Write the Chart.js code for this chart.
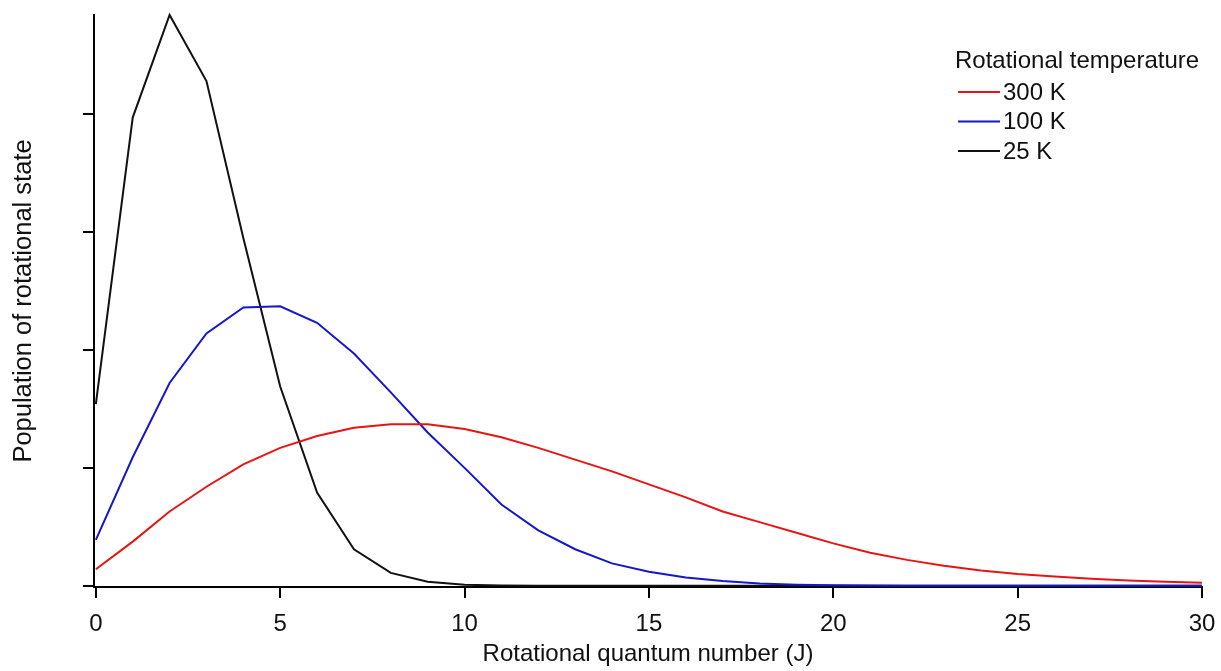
<!DOCTYPE html>
<html>
<head>
<meta charset="utf-8">
<title>Rotational populations</title>
<script src="https://cdn.jsdelivr.net/npm/chart.js@4.4.1/dist/chart.umd.min.js"></script>
<style>
  html, body { margin: 0; padding: 0; background: #fff; }
  #wrap { position: relative; width: 1221px; height: 671px; }
</style>
</head>
<body>
<div id="wrap"><canvas id="chart"></canvas></div>
<script>
// Rotational quantum number J
const jValues = [0, 1, 2, 3, 4, 5, 6, 7, 8, 9, 10, 11, 12, 13, 14, 15, 16, 17, 18, 19, 20,
                 21, 22, 23, 24, 25, 26, 27, 28, 29, 30];

// Relative population of each rotational level (arbitrary units)
const pop300K = [0.14, 0.375, 0.63, 0.84, 1.03, 1.17, 1.27, 1.34, 1.37, 1.37, 1.33,
                 1.26, 1.17, 1.07, 0.97, 0.86, 0.75, 0.63, 0.54, 0.45, 0.36,
                 0.28, 0.22, 0.17, 0.13, 0.10, 0.08, 0.06, 0.045, 0.035, 0.025];
const pop100K = [0.39, 1.09, 1.72, 2.14, 2.36, 2.37, 2.23, 1.97, 1.64, 1.30, 1.00,
                 0.69, 0.47, 0.31, 0.19, 0.12, 0.07, 0.04, 0.02, 0.01, 0.005,
                 0.003, 0.001, 0, 0, 0, 0, 0, 0, 0, 0];
const pop25K  = [1.54, 3.97, 4.84, 4.28, 2.95, 1.69, 0.79, 0.31, 0.11, 0.035, 0.01,
                 0.003, 0.001, 0, 0, 0, 0, 0, 0, 0, 0,
                 0, 0, 0, 0, 0, 0, 0, 0, 0, 0];

const seriesLabels = ['300 K', '100 K', '25 K'];
const seriesColors = ['#e81414', '#1616cc', '#111111'];
const legendTitle = 'Rotational temperature';

const xTicks = [0, 5, 10, 15, 20, 25, 30];

const FONT = "'Liberation Sans', Arial, sans-serif";

const toPoints = (vals) => vals.map((v, i) => ({ x: jValues[i], y: v }));

// legend drawn inside the plot, top right
const innerLegend = {
  id: 'innerLegend',
  afterDraw(chart) {
    const ctx = chart.ctx;
    ctx.save();
    ctx.font = '24px ' + FONT;
    ctx.fillStyle = '#111';
    ctx.textBaseline = 'middle';
    ctx.textAlign = 'left';
    ctx.fillText(legendTitle, 955, 61);
    chart.data.datasets.forEach((ds, i) => {
      const y = 92 + i * 29.5;
      ctx.strokeStyle = ds.borderColor;
      ctx.lineWidth = 2;
      ctx.beginPath();
      ctx.moveTo(958, y);
      ctx.lineTo(1000, y);
      ctx.stroke();
      ctx.fillText(ds.label, 1003, y + 1);
    });
    ctx.restore();
  }
};

const ctx = document.getElementById('chart').getContext('2d');
new Chart(ctx, {
  type: 'line',
  data: {
    datasets: [
      { label: seriesLabels[0], data: toPoints(pop300K), borderColor: seriesColors[0] },
      { label: seriesLabels[1], data: toPoints(pop100K), borderColor: seriesColors[1] },
      { label: seriesLabels[2], data: toPoints(pop25K), borderColor: seriesColors[2] }
    ]
  },
  options: {
    responsive: true,
    maintainAspectRatio: false,
    animation: false,
    layout: { padding: { top: 15, right: 19, left: 0, bottom: 0 } },
    elements: {
      line: { borderWidth: 2, tension: 0, fill: false },
      point: { radius: 0 }
    },
    datasets: { line: { clip: 4 } },
    plugins: {
      legend: { display: false },
      tooltip: { enabled: false }
    },
    scales: {
      x: {
        type: 'linear',
        min: -0.05,
        max: 30,
        afterFit: (scale) => {
          scale.height = 84;
          // keep the edge labels from pushing the plot area inwards
          scale.paddingLeft = 0;
          scale.paddingRight = 0;
        },
        afterBuildTicks: (scale) => { scale.ticks = xTicks.map(v => ({ value: v })); },
        ticks: {
          includeBounds: false,
          color: '#111',
          padding: 12,
          maxRotation: 0,
          font: { family: FONT, size: 24 }
        },
        grid: { drawOnChartArea: false, drawTicks: true, tickLength: 11, color: '#000', lineWidth: 2 },
        border: { display: true, color: '#000', width: 2 },
        title: {
          display: true,
          text: 'Rotational quantum number (J)',
          color: '#111',
          font: { family: FONT, size: 24 },
          padding: { top: 0, bottom: 2 }
        }
      },
      y: {
        min: -0.01,
        max: 4.84,
        afterFit: (scale) => { scale.width = 94; },
        ticks: {
          stepSize: 1,
          includeBounds: false,
          display: false
        },
        grid: { drawOnChartArea: false, drawTicks: true, tickLength: 11, color: '#000', lineWidth: 2 },
        border: { display: true, color: '#000', width: 2 },
        title: {
          display: true,
          text: 'Population of rotational state',
          color: '#111',
          font: { family: FONT, size: 25.5 },
          padding: { top: 9, bottom: 0 }
        }
      }
    }
  },
  plugins: [innerLegend]
});
</script>
</body>
</html>
